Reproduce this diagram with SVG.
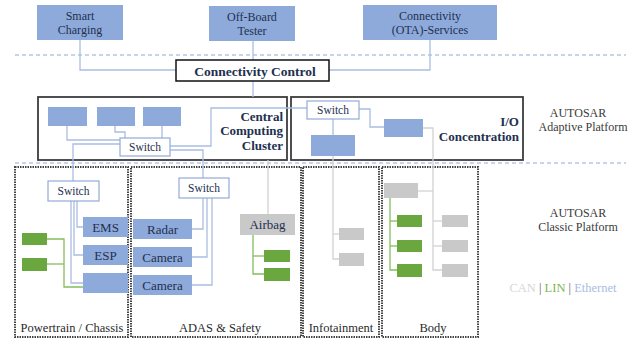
<svg xmlns="http://www.w3.org/2000/svg" width="637" height="339" viewBox="0 0 637 339" font-family="'Liberation Serif', 'DejaVu Serif', serif">
<style>
text{font-family:"Liberation Serif","DejaVu Serif",serif;fill:#22304f}
.blue{fill:#8eaadb}
.grey{fill:#c9c9c9}
.green{fill:#6aa83f}
.sw{fill:#fff;stroke:#93abd8;stroke-width:1.2}
.big{fill:#fff;stroke:#3c3c3c;stroke-width:1.8}
.reg{fill:none;stroke:#444;stroke-width:2;stroke-dasharray:1.5 1}
.sep{fill:none;stroke:#8eaadb;stroke-width:1.2;stroke-dasharray:4 3}
.eth{fill:none;stroke:#a9bde2;stroke-width:1.3}
.can{fill:none;stroke:#d2d2d2;stroke-width:1.3}
.lin{fill:none;stroke:#86bd5c;stroke-width:1.3}
.t12{font-size:12px;text-anchor:middle}
.t13{font-size:13px;text-anchor:middle}
.t11{font-size:11.5px;text-anchor:middle}
.b13{font-size:13px;font-weight:bold}
.lab{font-size:12.5px;text-anchor:middle;fill:#2a2a2a}
.leg{fill:#3a3a3a}
</style>
<rect width="637" height="339" fill="#fff"/>
<g id="separators">
<line class="sep" x1="15" y1="55" x2="626" y2="55"/>
<line class="sep" x1="15" y1="163" x2="626" y2="163"/>
</g>
<g id="regions">
<g id="powertrain"><rect class="reg" x="15" y="167" width="113" height="170"/><text class="lab" x="72" y="332">Powertrain / Chassis</text></g>
<g id="adas"><rect class="reg" x="131" y="167" width="170" height="170"/><text class="lab" x="220" y="332">ADAS &amp; Safety</text></g>
<g id="infotainment"><rect class="reg" x="303" y="167" width="76" height="170"/><text class="lab" x="341" y="332">Infotainment</text></g>
<g id="body"><rect class="reg" x="382" y="167" width="96" height="170"/><text class="lab" x="433" y="332">Body</text></g>
</g>
<g id="cluster-boxes">
<g id="ccc"><rect class="big" x="38" y="97" width="249" height="63"/>
<text class="b13" text-anchor="end" x="283" y="121">Central</text>
<text class="b13" text-anchor="end" x="283" y="135">Computing</text>
<text class="b13" text-anchor="end" x="283" y="150">Cluster</text></g>
<g id="io"><rect class="big" x="291" y="97" width="232" height="63"/>
<text class="b13" text-anchor="end" x="519" y="126">I/O</text>
<text class="b13" text-anchor="end" x="519" y="141">Concentration</text></g>
</g>
<g id="connectors">
<polyline class="eth" points="80,40 80,70 176,70"/>
<line class="eth" x1="253" y1="41" x2="253" y2="60"/>
<polyline class="eth" points="430,40 430,70 329,70"/>
<line class="eth" x1="253" y1="81" x2="253" y2="97"/>
<polyline class="eth" points="67,126 67,140 120,140"/>
<polyline class="eth" points="115,126 115,132 125,132 125,138"/>
<line class="eth" x1="162" y1="126" x2="162" y2="138"/>
<polyline class="eth" points="120,144 73,144 73,181"/>
<polyline class="eth" points="170,146 211,146 211,108 307,108"/>
<polyline class="eth" points="170,150 203,150 203,178"/>
<polyline class="eth" points="359,109 370,109 370,127 384,127"/>
<line class="eth" x1="333" y1="119" x2="333" y2="135"/>
<polyline class="eth" points="77,201 77,227 83,227"/>
<polyline class="eth" points="74,201 74,255 83,255"/>
<polyline class="eth" points="71,201 71,283 83,283"/>
<polyline class="lin" points="47,239 64,239 64,287 83,287"/>
<line class="lin" x1="47" y1="264" x2="64" y2="264"/>
<polyline class="eth" points="203,198 203,229 192,229"/>
<polyline class="eth" points="207,198 207,257 192,257"/>
<polyline class="eth" points="212,198 212,285 192,285"/>
<line class="can" x1="268" y1="160" x2="268" y2="214"/>
<polyline class="lin" points="253,235 253,274 264,274"/>
<line class="lin" x1="253" y1="256" x2="264" y2="256"/>
<polyline class="can" points="333,156 333,259 339,259"/>
<line class="can" x1="333" y1="234" x2="339" y2="234"/>
<polyline class="can" points="423,128 433,128 433,270 442,270"/>
<line class="can" x1="418" y1="191" x2="433" y2="191"/>
<line class="can" x1="433" y1="221" x2="442" y2="221"/>
<line class="can" x1="433" y1="246" x2="442" y2="246"/>
<polyline class="lin" points="390,198 390,270 397,270"/>
<line class="lin" x1="390" y1="221" x2="397" y2="221"/>
<line class="lin" x1="390" y1="246" x2="397" y2="246"/>
</g>
<g id="smart-charging"><rect class="blue" x="37" y="5" width="86" height="35"/><text class="t12" x="80" y="20">Smart</text><text class="t12" x="80" y="34">Charging</text></g>
<g id="offboard-tester"><rect class="blue" x="209" y="6" width="86" height="35"/><text class="t12" x="252" y="21">Off-Board</text><text class="t12" x="252" y="35">Tester</text></g>
<g id="ota-services"><rect class="blue" x="363" y="5" width="134" height="35"/><text class="t12" x="430" y="20">Connectivity</text><text class="t12" x="430" y="34">(OTA)-Services</text></g>
<g id="connectivity-control"><rect x="176" y="60" width="153" height="21" fill="#fff" stroke="#111" stroke-width="1.5"/><text class="b13" style="font-size:13.5px" text-anchor="middle" x="255" y="75.5">Connectivity Control</text></g>
<g id="ccc-ecu1"><rect class="blue" x="48" y="107" width="39" height="19"/></g>
<g id="ccc-ecu2"><rect class="blue" x="97" y="107" width="38" height="19"/></g>
<g id="ccc-ecu3"><rect class="blue" x="143" y="107" width="38" height="19"/></g>
<g id="ccc-switch"><rect class="sw" x="120" y="138" width="50" height="18"/><text class="t11" x="145" y="151">Switch</text></g>
<g id="io-switch"><rect class="sw" x="307" y="101" width="52" height="18"/><text class="t11" x="333" y="114">Switch</text></g>
<g id="io-ecu1"><rect class="blue" x="384" y="119" width="39" height="18"/></g>
<g id="io-ecu2"><rect class="blue" x="311" y="135" width="44" height="21"/></g>
<g id="pt-switch"><rect class="sw" x="48" y="181" width="51" height="20"/><text class="t11" x="73.5" y="195">Switch</text></g>
<g id="ems"><rect class="blue" x="83" y="217" width="45" height="20"/><text class="t13" x="105.5" y="231.5">EMS</text></g>
<g id="esp"><rect class="blue" x="83" y="245" width="45" height="20"/><text class="t13" x="105.5" y="259.5">ESP</text></g>
<g id="pt-ecu3"><rect class="blue" x="83" y="273" width="45" height="20"/></g>
<g id="pt-lin1"><rect class="green" x="22" y="233" width="25" height="12"/></g>
<g id="pt-lin2"><rect class="green" x="22" y="258" width="25" height="13"/></g>
<g id="adas-switch"><rect class="sw" x="179" y="178" width="50" height="20"/><text class="t11" x="204" y="192">Switch</text></g>
<g id="radar"><rect class="blue" x="133" y="219" width="59" height="20"/><text class="t13" x="162.5" y="233.5">Radar</text></g>
<g id="camera1"><rect class="blue" x="133" y="247" width="59" height="20"/><text class="t13" x="162.5" y="261.5">Camera</text></g>
<g id="camera2"><rect class="blue" x="133" y="275" width="59" height="20"/><text class="t13" x="162.5" y="289.5">Camera</text></g>
<g id="airbag"><rect class="grey" x="240" y="214" width="55" height="21"/><text class="t13" x="267.5" y="228.5">Airbag</text></g>
<g id="airbag-lin1"><rect class="green" x="264" y="250" width="26" height="12"/></g>
<g id="airbag-lin2"><rect class="green" x="264" y="268" width="26" height="13"/></g>
<g id="info-ecu1"><rect class="grey" x="339" y="228" width="25" height="12"/></g>
<g id="info-ecu2"><rect class="grey" x="339" y="253" width="25" height="13"/></g>
<g id="body-gw"><rect class="grey" x="384" y="183" width="34" height="15"/></g>
<g id="body-lin1"><rect class="green" x="397" y="215" width="25" height="12"/></g>
<g id="body-lin2"><rect class="green" x="397" y="240" width="25" height="12"/></g>
<g id="body-lin3"><rect class="green" x="397" y="264" width="25" height="13"/></g>
<g id="body-can1"><rect class="grey" x="442" y="215" width="26" height="12"/></g>
<g id="body-can2"><rect class="grey" x="442" y="240" width="26" height="12"/></g>
<g id="body-can3"><rect class="grey" x="442" y="264" width="26" height="13"/></g>
<g id="legend">
<text class="t12 leg" x="578" y="117">AUTOSAR</text>
<text class="t12 leg" x="583" y="131">Adaptive Platform</text>
<text class="t12 leg" x="578" y="217">AUTOSAR</text>
<text class="t12 leg" x="578" y="231">Classic Platform</text>
<text x="563" y="292" text-anchor="middle" style="font-size:12.5px"><tspan style="fill:#d6d6d6">CAN</tspan><tspan style="fill:#666"> | </tspan><tspan style="fill:#7cb655">LIN</tspan><tspan style="fill:#666"> | </tspan><tspan style="fill:#a9bde2">Ethernet</tspan></text>
</g>
</svg>
